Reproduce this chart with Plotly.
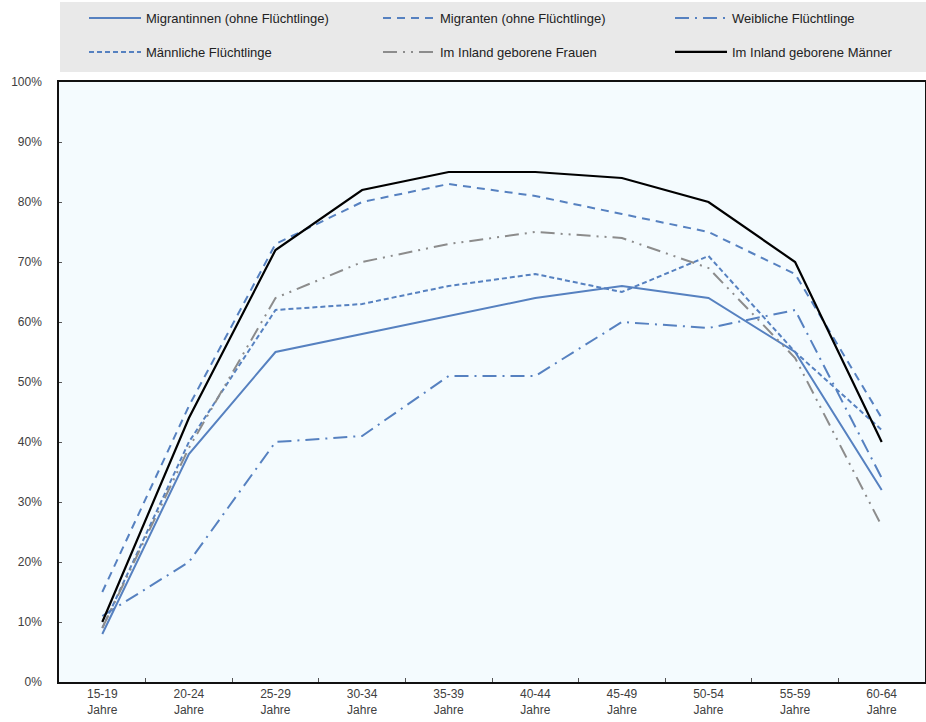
import plotly.graph_objects as go

categories = ["15-19<br>Jahre", "20-24<br>Jahre", "25-29<br>Jahre", "30-34<br>Jahre", "35-39<br>Jahre",
              "40-44<br>Jahre", "45-49<br>Jahre", "50-54<br>Jahre", "55-59<br>Jahre", "60-64<br>Jahre"]

migrantinnen = [8, 38, 55, 58, 61, 64, 66, 64, 55, 32]
migranten = [15, 46, 73, 80, 83, 81, 78, 75, 68, 44]
weibl_fluechtlinge = [11, 20, 40, 41, 51, 51, 60, 59, 62, 34]
maennl_fluechtlinge = [9, 40, 62, 63, 66, 68, 65, 71, 55, 42]
inland_frauen = [9, 39, 64, 70, 73, 75, 74, 69, 54, 26]
inland_maenner = [10, 44, 72, 82, 85, 85, 84, 80, 70, 40]

BLUE = "#5681c0"
GRAY = "#8c8c8c"
FONT = "Liberation Sans, Arial, sans-serif"
TXT = "#404040"

# plot area in pixels: x 59..925, y 82..682
def px_x(p):
    return (p - 59) / 866

def px_y(p):
    return (682 - p) / 600

series = [
    ("Migrantinnen (ohne Flüchtlinge)", migrantinnen, BLUE, "solid", 2, "legend", 92, 18),
    ("Migranten (ohne Flüchtlinge)", migranten, BLUE, "8px,6px", 2, "legend2", 386, 18),
    ("Weibliche Flüchtlinge", weibl_fluechtlinge, BLUE, "14px,6px,2px,6px", 2, "legend3", 678, 18),
    ("Männliche Flüchtlinge", maennl_fluechtlinge, BLUE, "5px,3px", 2, "legend4", 92, 52),
    ("Im Inland geborene Frauen", inland_frauen, GRAY, "14px,6px,2px,6px,2px,6px", 2, "legend5", 386, 52),
    ("Im Inland geborene Männer", inland_maenner, "#000000", "solid", 2.2, "legend6", 678, 52),
]

fig = go.Figure()
legends = {}
for name, vals, color, dash, w, lg, lx, ly in series:
    fig.add_trace(go.Scatter(
        x=categories, y=vals, name=name, mode="lines",
        line=dict(color=color, dash=dash, width=w),
        legend=lg,
    ))
    legends[lg] = dict(x=px_x(lx - 8), y=px_y(ly), xanchor="left", yanchor="middle",
                       orientation="h", bgcolor="rgba(0,0,0,0)", borderwidth=0,
                       itemwidth=52,
                       font=dict(family=FONT, size=13, color="#222"))

fig.add_shape(type="rect", xref="paper", yref="paper",
              x0=px_x(60), x1=px_x(927), y0=px_y(72), y1=px_y(2),
              fillcolor="#e9e9e9", line=dict(width=0), layer="below")

fig.update_layout(
    template="none",
    width=926, height=722,
    margin=dict(l=59, r=1, t=82, b=40, autoexpand=False),
    paper_bgcolor="white",
    plot_bgcolor="#f4fbfe",
    font=dict(family=FONT, size=12, color=TXT),
    showlegend=True,
    xaxis=dict(type="category", showline=True, linecolor="#111", linewidth=1.5,
               mirror=True, ticks="inside", ticklen=4, tickcolor="#555",
               tickson="boundaries", showgrid=False, automargin=False,
               tickfont=dict(family=FONT, size=12, color=TXT),
               range=[-0.5, 9.5]),
    yaxis=dict(range=[0, 100], dtick=10, ticksuffix="%", showline=True,
               linecolor="#111", linewidth=1.5, mirror=True, ticks="inside",
               ticklen=3, tickcolor="#555", showgrid=False, zeroline=False,
               automargin=False, ticklabelstandoff=13,
               tickfont=dict(family=FONT, size=12, color=TXT)),
    **legends,
)

fig.write_html("out.html",
               config={"displayModeBar": False},
               post_script="document.body.style.margin='0';document.body.style.overflow='hidden';")
